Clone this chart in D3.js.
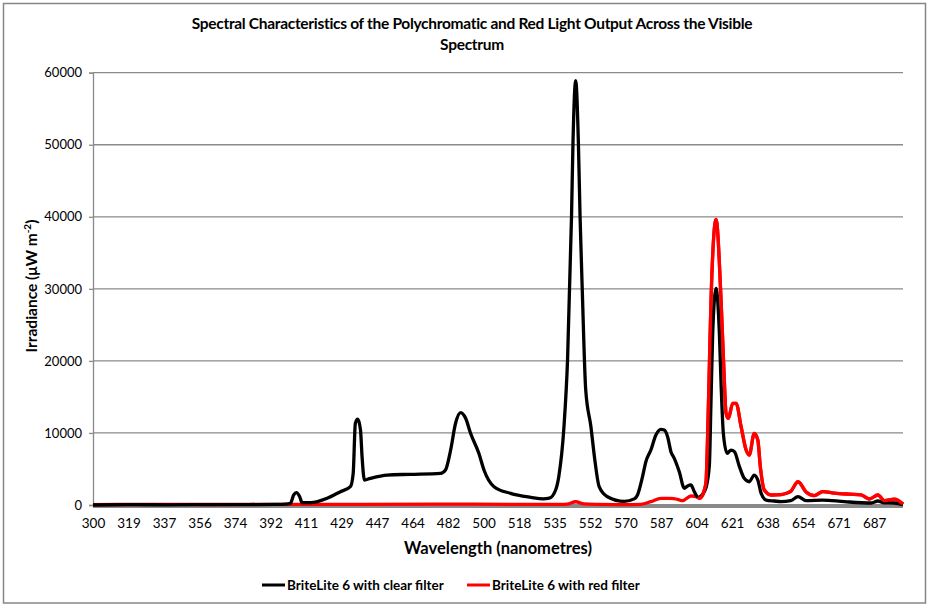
<!DOCTYPE html>
<html>
<head>
<meta charset="utf-8">
<script src="https://cdn.jsdelivr.net/npm/d3@7"></script>
<style>
  html, body { margin: 0; padding: 0; background: #fff; }
  svg { display: block; font-family: Lato, "Open Sans", sans-serif; }
</style>
</head>
<body>
<svg id="chart" width="930" height="609"></svg>
<script>
// ---------- data ----------
const titleLines = ["Spectral Characteristics of the Polychromatic and Red Light Output Across the Visible", "Spectrum"];
const xTitle = "Wavelength (nanometres)";
const tickWavelengths = [300,319,337,356,374,392,411,429,447,464,482,500,518,535,552,570,587,604,621,638,654,671,687];
const endWavelength = 700;
const yTicks = [0,10000,20000,30000,40000,50000,60000];
const seriesNames = ["BriteLite 6 with clear filter", "BriteLite 6 with red filter"];

const clearWl = [300,320,340,360,380,395,400,402.6,404.4,405.8,407.6,408.9,413.2,421.7,428.4,433.5,434.9,436.0,437.2,438.6,439.4,440.6,443.6,451.8,463.0,478.2,480.7,483.3,485.8,488.4,490.9,493.4,497.6,500.2,505.3,513.7,523.6,529.5,532.5,535.5,537.0,539.5,541.2,543.1,543.8,545.1,546.4,547.2,548.3,549.9,552.4,554.4,556.6,560.8,569.3,574.1,575.7,578.1,579.7,582.1,584.5,586.9,588.5,590.1,591.7,593.3,595.7,598.1,599.7,601.3,602.9,604.8,606.9,608.5,610.1,610.9,611.7,613.3,614.9,615.7,616.8,618.6,620.5,622.1,624.5,626.8,629.2,631.6,633.3,634.9,637.3,641.0,644.1,648.4,651.7,655.4,663.4,673.6,685.7,688.7,691.5,696.1,700];
const clearVal = [0,40,30,50,60,80,120,230,1390,1710,1150,320,320,930,1850,2540,4400,11340,11900,10410,6700,3470,3700,4160,4260,4400,4860,7630,11340,12810,12030,9950,7180,4860,2540,1620,1070,850,950,2080,3930,10900,20100,40000,50200,58900,50200,40000,29400,16000,10900,6250,2540,1150,500,850,1390,3930,6010,7630,9720,10500,10400,9480,7400,6480,4620,2320,2640,2780,1850,1070,1500,2400,5500,14570,23800,30070,23800,16900,9950,7180,7630,7400,5320,3700,3230,4160,3470,1620,690,555,460,600,1150,600,690,460,280,555,300,280,50];

const redWl = [300,330,360,400,440,480,520,538,541,545.1,549,555,566.7,577.3,582.1,586.9,591.7,594.9,597.3,601.3,604.5,605.3,606.9,607.7,608.5,609.3,610.1,610.9,613.3,615.7,617.0,618.1,619.2,621.3,622.9,625.3,627.7,629.2,631.6,633.3,634.5,636.4,639.6,644.1,646.8,648.4,651.7,655.4,659.3,663.4,668.8,675.8,681.1,684.8,688.7,691.6,696.1,700];
const redVal = [60,80,70,90,100,120,80,80,120,450,150,80,60,100,460,930,930,790,600,1250,1070,930,1390,2080,3200,9950,19200,28450,39650,28450,19200,12730,12030,14110,14110,10870,7630,6940,9950,9020,5320,2080,1390,1450,1660,1900,3230,1800,1300,1850,1660,1500,1400,830,1390,600,800,140];

// ---------- layout ----------
const plot = { left: 93, right: 903, top: 72.7, bottom: 505 };
const svg = d3.select("#chart");

svg.append("rect")
  .attr("x", 3.5).attr("y", 3.5).attr("width", 922).attr("height", 599.5)
  .attr("fill", "#fff").attr("stroke", "#868686").attr("stroke-width", 1.5);

// x: category-like axis, labels equally spaced
const nSlots = (tickWavelengths.length - 1) +
  (endWavelength - tickWavelengths[tickWavelengths.length - 1]) /
  (tickWavelengths[tickWavelengths.length - 1] - tickWavelengths[tickWavelengths.length - 2]);
const slot = d3.scaleLinear().domain([0, nSlots]).range([plot.left, plot.right]);
const x = d3.scaleLinear()
  .domain([...tickWavelengths, endWavelength])
  .range([...tickWavelengths.map((d, i) => slot(i)), slot(nSlots)]);
const y = d3.scaleLinear().domain([0, 60000]).range([plot.bottom, plot.top]);

// gridlines
svg.append("g").selectAll("line").data(yTicks.slice(1)).join("line")
  .attr("x1", plot.left).attr("x2", plot.right)
  .attr("y1", d => y(d)).attr("y2", d => y(d))
  .attr("stroke", "#8a8a8a").attr("stroke-width", 1.3);

// y axis
const yAxis = svg.append("g").attr("transform", `translate(${plot.left},0)`)
  .call(d3.axisLeft(y).tickValues(yTicks).tickSize(4).tickPadding(7).tickFormat(d3.format("d")));
yAxis.select(".domain").attr("stroke", "#8a8a8a").attr("stroke-width", 1.3);
yAxis.selectAll(".tick line").attr("stroke", "#8a8a8a").attr("stroke-width", 1.3);
yAxis.selectAll(".tick text").attr("font-size", 13).attr("fill", "#000")
  .attr("font-family", "Lato, sans-serif");

// x axis labels
const xAxis = svg.append("g").attr("transform", `translate(0,${plot.bottom})`)
  .call(d3.axisBottom(x).tickValues(tickWavelengths).tickSize(0).tickPadding(13).tickFormat(d3.format("d")));
xAxis.select(".domain").remove();
xAxis.selectAll(".tick text").attr("font-size", 13.5).attr("fill", "#000")
  .attr("font-family", "Lato, sans-serif");

// baseline gray band
svg.append("line")
  .attr("x1", x(300)).attr("x2", x(endWavelength))
  .attr("y1", y(0) + 1).attr("y2", y(0) + 1)
  .attr("stroke", "#8a8a8a").attr("stroke-width", 4);

const line = d3.line().x(d => x(d[0])).y(d => y(d[1])).curve(d3.curveMonotoneX);
const clearData = d3.zip(clearWl, clearVal);
const redData = d3.zip(redWl, redVal);

svg.append("path").datum(redData).attr("d", line)
  .attr("fill", "none").attr("stroke", "#ff0000").attr("stroke-width", 3.3).attr("stroke-linejoin", "round");
svg.append("path").datum(clearData).attr("d", line)
  .attr("fill", "none").attr("stroke", "#000").attr("stroke-width", 3.3).attr("stroke-linejoin", "round");

// red drawn over black where red is higher near 610-640
svg.append("path").datum(redData.filter(d => d[0] >= 604)).attr("d", line)
  .attr("fill", "none").attr("stroke", "#ff0000").attr("stroke-width", 3.3).attr("stroke-linejoin", "round");
svg.append("path").datum(clearData.filter(d => d[0] >= 612.5 && d[0] <= 614.5)).attr("d", line)
  .attr("fill", "none").attr("stroke", "#000").attr("stroke-width", 3.3);

// title
svg.append("g").selectAll("text").data(titleLines).join("text")
  .attr("x", 472).attr("y", (d, i) => 29 + i * 21)
  .attr("text-anchor", "middle").attr("font-size", 15.5).attr("font-weight", "bold")
  .attr("letter-spacing", -0.3)
  .text(d => d);

// axis titles
svg.append("text").attr("x", (plot.left + plot.right) / 2).attr("y", 554)
  .attr("text-anchor", "middle").attr("font-size", 16.5).attr("font-weight", "bold")
  .text(xTitle);

const yt = svg.append("text")
  .attr("transform", `translate(37,286) rotate(-90)`)
  .attr("text-anchor", "middle").attr("font-size", 15.5).attr("font-weight", "bold");
yt.append("tspan").text("Irradiance (μW m");
yt.append("tspan").attr("font-size", 10).attr("dy", -6).text("-2");
yt.append("tspan").attr("dy", 6).text(")");

// legend
const legendItems = [
  { name: seriesNames[0], color: "#000", x: 262 },
  { name: seriesNames[1], color: "#ff0000", x: 467 }
];
const lg = svg.append("g").selectAll("g").data(legendItems).join("g")
  .attr("transform", d => `translate(${d.x},585)`);
lg.append("line").attr("x1", 0).attr("x2", 23).attr("stroke", d => d.color).attr("stroke-width", 3);
lg.append("text").attr("x", 25).attr("y", 5).attr("font-size", 13.5).attr("font-weight", "bold")
  .text(d => d.name);
</script>
</body>
</html>
